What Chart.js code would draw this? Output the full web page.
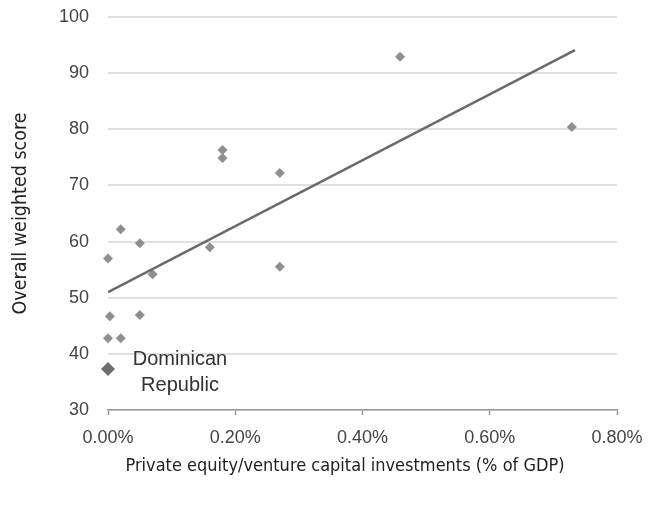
<!DOCTYPE html>
<html>
<head>
<meta charset="utf-8">
<script src="https://cdn.jsdelivr.net/npm/chart.js@4.4.1/dist/chart.umd.min.js"></script>
<style>
html,body{margin:0;padding:0;background:#fff;}
#wrap{width:655px;height:506px;}
</style>
</head>
<body>
<div id="wrap"><canvas id="c" width="655" height="506"></canvas></div>
<script>
// Data (x = PE/VC investments, % of GDP; y = overall weighted score)
const peVcShare = [0.000, 0.020, 0.050, 0.070, 0.003, 0.050, 0.000, 0.020, 0.180, 0.180, 0.270, 0.270, 0.160, 0.459, 0.729];
const weightedScore = [57.0, 62.2, 59.7, 54.2, 46.7, 46.9, 42.8, 42.8, 76.3, 74.9, 72.2, 55.5, 59.0, 92.9, 80.4];
const highlightName = ["Dominican", "Republic"];
const highlightX = [0.000];
const highlightY = [37.3];
const trendX = [0.000, 0.734];
const trendY = [51.0, 94.1];
const xTicks = [0, 0.2, 0.4, 0.6, 0.8];
const yTicks = [30, 40, 50, 60, 70, 80, 90, 100];
const xTitle = 'Private equity/venture capital investments (% of GDP)';
const yTitle = 'Overall weighted score';

const toPts = (xs, ys) => xs.map((x, i) => ({x: x, y: ys[i]}));
const condensed = '"Liberation Sans Narrow", "DejaVu Sans Condensed", sans-serif';

const labelPlugin = {
  id: 'drLabel',
  afterDatasetsDraw(chart) {
    const ctx = chart.ctx;
    const xs = chart.scales.x, ys = chart.scales.y;
    const px = xs.getPixelForValue(highlightX[0]);
    const py = ys.getPixelForValue(highlightY[0]);
    ctx.save();
    ctx.fillStyle = '#333';
    ctx.font = '20px "Liberation Sans", Arial, sans-serif';
    ctx.textAlign = 'center';
    ctx.textBaseline = 'middle';
    ctx.fillText(highlightName[0], px + 72, py - 10);
    ctx.fillText(highlightName[1], px + 72, py + 16);
    // x axis title (centred on the page body, below tick labels)
    ctx.fillStyle = '#222';
    ctx.font = '18px ' + condensed;
    ctx.fillText(xTitle, 345, 466);
    ctx.restore();
  }
};

new Chart(document.getElementById('c'), {
  type: 'scatter',
  data: {
    datasets: [
      {
        label: 'Trend',
        type: 'line',
        data: toPts(trendX, trendY),
        borderColor: '#6a6a6a',
        borderWidth: 2.5,
        pointRadius: 0,
        showLine: true,
        fill: false,
        order: 0
      },
      {
        label: 'Countries',
        data: toPts(peVcShare, weightedScore),
        pointStyle: 'rectRot',
        pointRadius: 5,
        backgroundColor: '#8f8f8f',
        borderColor: '#8f8f8f',
        borderWidth: 0,
        clip: false,
        order: 1
      },
      {
        label: highlightName.join(' '),
        data: toPts(highlightX, highlightY),
        pointStyle: 'rectRot',
        pointRadius: 7,
        backgroundColor: '#6e6e6e',
        borderColor: '#6e6e6e',
        borderWidth: 0,
        clip: false,
        order: 1
      }
    ]
  },
  options: {
    responsive: false,
    animation: false,
    layout: {padding: {left: 0, right: 38, top: 17, bottom: 56}},
    plugins: {
      legend: {display: false},
      tooltip: {enabled: false},
      title: {display: false}
    },
    scales: {
      x: {
        type: 'linear',
        min: 0,
        max: 0.8,
        afterBuildTicks: (s) => { s.ticks = xTicks.map(v => ({value: v})); },
        afterFit: (s) => { s.height = 40; },
        ticks: {
          color: '#444',
          font: {family: '"Liberation Sans", Arial, sans-serif', size: 18},
          padding: 12,
          callback: (v) => v.toFixed(2) + '%'
        },
        grid: {drawOnChartArea: false, drawTicks: true, tickLength: 5, tickColor: '#999', tickWidth: 1.5},
        border: {display: true, color: '#999', width: 1.5}
      },
      y: {
        min: 30,
        max: 100,
        afterBuildTicks: (s) => { s.ticks = yTicks.map(v => ({value: v})); },
        afterFit: (s) => { s.width = 108; s.paddingTop = 0; s.paddingBottom = 0; },
        ticks: {
          color: '#444',
          font: {family: '"Liberation Sans", Arial, sans-serif', size: 18},
          padding: 19
        },
        grid: {color: '#e0e0e0', lineWidth: 2, drawTicks: false},
        border: {display: false},
        title: {
          display: true,
          text: yTitle,
          color: '#222',
          font: {family: condensed, size: 19.5, weight: 'normal'},
          padding: {top: 9, bottom: 0}
        }
      }
    }
  },
  plugins: [labelPlugin]
});
</script>
</body>
</html>
